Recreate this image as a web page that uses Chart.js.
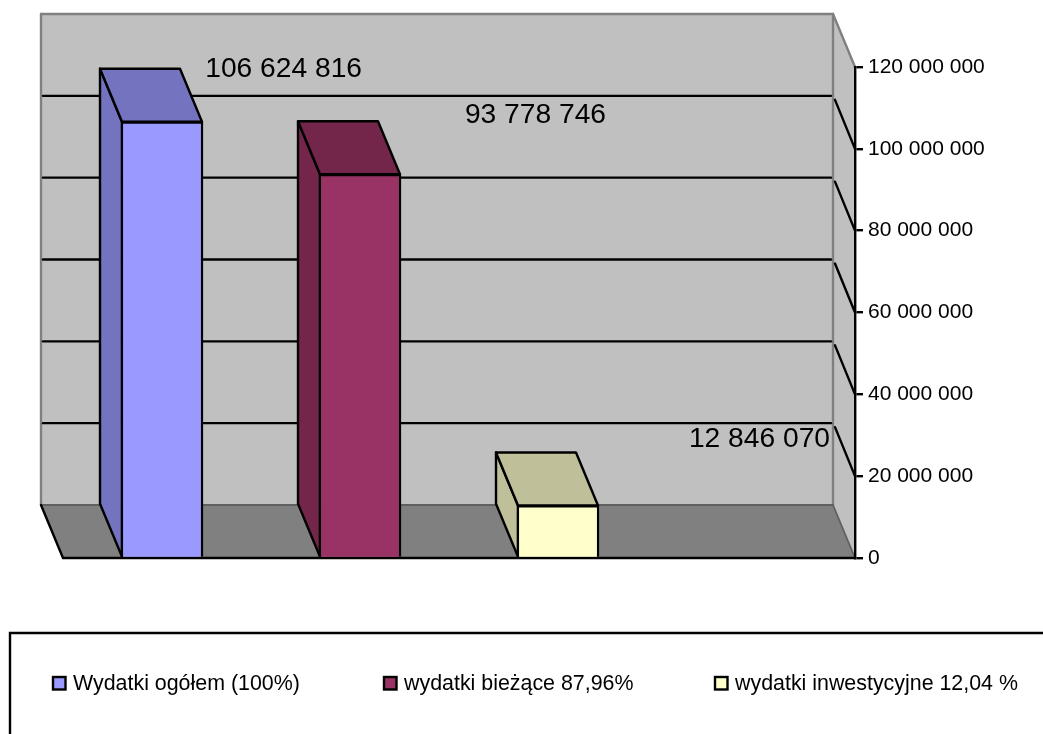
<!DOCTYPE html>
<html lang="pl">
<head>
<meta charset="utf-8">
<style>html,body{margin:0;padding:0;background:#fff;overflow:hidden}canvas{display:block}</style>
<script src="https://cdn.jsdelivr.net/npm/chart.js@4"></script>
</head>
<body>
<canvas id="c" width="1043" height="734"></canvas>
<script>
const categories = ['Wydatki ogółem (100%)', 'wydatki bieżące 87,96%', 'wydatki inwestycyjne 12,04 %', ''];
const values = [106624816, 93778746, 12846070, null];
const frontColors = ['#9999FF', '#993366', '#FFFFCC'];
const shadeColors = ['#7373BF', '#732649', '#BFBF99'];
const yTicks = [0, 20000000, 40000000, 60000000, 80000000, 100000000, 120000000];

const fmt = v => String(v).replace(/\B(?=(\d{3})+(?!\d))/g, ' ');
const FONT = '"Liberation Sans", Arial, sans-serif';
const depth = { dx: -22, dy: -53 };
const labelAnchors = [{ dx: 200, dy: -53 }, { dx: 246, dy: -59 }, { dx: 272, dy: -66 }];
const LW = 2.4;

function poly(ctx, pts, fill, stroke, lw) {
  ctx.beginPath();
  pts.forEach((p, i) => i ? ctx.lineTo(p[0], p[1]) : ctx.moveTo(p[0], p[1]));
  ctx.closePath();
  if (fill) { ctx.fillStyle = fill; ctx.fill(); }
  if (stroke) { ctx.strokeStyle = stroke; ctx.lineWidth = lw; ctx.stroke(); }
}
function line(ctx, a, b, color, lw) {
  ctx.beginPath(); ctx.moveTo(a[0], a[1]); ctx.lineTo(b[0], b[1]);
  ctx.strokeStyle = color; ctx.lineWidth = lw; ctx.stroke();
}

const scene3d = {
  id: 'scene3d',
  beforeDatasetsDraw(chart) {
    const { ctx, chartArea: { left: L, right: R }, scales: { y } } = chart;
    const { dx, dy } = depth;
    const T = y.getPixelForValue(yTicks[yTicks.length - 1]);
    const B = y.getPixelForValue(0);
    ctx.save();
    ctx.lineJoin = 'round';
    ctx.lineCap = 'round';
    // back wall, side wall, floor
    poly(ctx, [[L + dx, T + dy], [R + dx, T + dy], [R + dx, B + dy], [L + dx, B + dy]], '#C0C0C0');
    poly(ctx, [[R + dx, T + dy], [R, T], [R, B], [R + dx, B + dy]], '#C0C0C0');
    poly(ctx, [[L + dx, B + dy], [R + dx, B + dy], [R, B], [L, B]], '#808080');
    // grey wall edges
    line(ctx, [L + dx, T + dy], [R + dx, T + dy], '#808080', LW);
    line(ctx, [L + dx, T + dy], [L + dx, B + dy], '#808080', LW);
    line(ctx, [R + dx, T + dy], [R + dx, B + dy], '#808080', LW);
    line(ctx, [R + dx, T + dy], [R, T], '#808080', LW);
    line(ctx, [L + dx, B + dy], [R + dx, B + dy], '#606060', 1.8);
    line(ctx, [R + dx, B + dy], [R, B], '#606060', 1.8);
    // gridlines follow the wall
    yTicks.slice(1, -1).forEach(v => {
      const p = y.getPixelForValue(v);
      line(ctx, [L + dx + 2, p + dy], [R + dx - 2, p + dy], '#000', LW);
      line(ctx, [R + dx + 2, p + dy + 4], [R, p], '#000', LW);
    });
    // floor front edges
    line(ctx, [L + dx, B + dy], [L, B], '#000', LW);
    line(ctx, [L, B], [R, B], '#000', LW);
    // bar sides and tops
    chart.getDatasetMeta(0).data.forEach((bar, i) => {
      if (values[i] == null) return;
      const { x, y: top, base, width } = bar.getProps(['x', 'y', 'base', 'width'], true);
      const l = x - width / 2 + 1, r = x + width / 2 - 1;
      poly(ctx, [[l, top], [l + dx, top + dy], [l + dx, base + dy], [l, base]], shadeColors[i], '#000', LW);
      poly(ctx, [[l, top], [l + dx, top + dy], [r + dx, top + dy], [r, top]], shadeColors[i], '#000', LW);
    });
    ctx.restore();
  },
  afterDatasetsDraw(chart) {
    const { ctx } = chart;
    ctx.save();
    ctx.fillStyle = '#000';
    ctx.font = '28.2px ' + FONT;
    ctx.textAlign = 'right';
    ctx.textBaseline = 'middle';
    chart.getDatasetMeta(0).data.forEach((bar, i) => {
      if (values[i] == null) return;
      const a = labelAnchors[i];
      ctx.fillText(fmt(values[i]), bar.x + a.dx, bar.y + a.dy);
    });
    // legend frame and entries
    ctx.strokeStyle = '#000';
    ctx.lineWidth = 2.4;
    ctx.beginPath();
    ctx.moveTo(10, 734); ctx.lineTo(10, 633); ctx.lineTo(1043, 633);
    ctx.stroke();
    ctx.font = '21.4px ' + FONT;
    ctx.textAlign = 'left';
    categories.filter(Boolean).forEach((name, i) => {
      const x = 53 + i * 331;
      ctx.fillStyle = frontColors[i];
      ctx.lineWidth = 2.4;
      ctx.fillRect(x, 677, 12.5, 12.5);
      ctx.strokeRect(x, 677, 12.5, 12.5);
      ctx.fillStyle = '#000';
      ctx.fillText(name, x + 20, 684);
    });
    ctx.restore();
  }
};

new Chart(document.getElementById('c'), {
  type: 'bar',
  data: {
    labels: categories,
    datasets: [{
      data: values,
      backgroundColor: frontColors,
      borderColor: '#000',
      borderWidth: 2.4,
      barThickness: 82
    }]
  },
  plugins: [scene3d],
  options: {
    responsive: false,
    animation: false,
    devicePixelRatio: 1,
    layout: { padding: { left: 63, top: 67, bottom: 176, right: 0 } },
    plugins: { legend: { display: false }, tooltip: { enabled: false } },
    scales: {
      x: { display: false },
      y: {
        position: 'right',
        min: 0,
        max: 120000000,
        afterFit(scale) { scale.width = 188; },
        afterBuildTicks(scale) { scale.ticks = yTicks.map(value => ({ value })); },
        border: { display: true, color: '#000', width: 2.4, z: 1 },
        grid: { drawOnChartArea: false, drawTicks: true, tickLength: 8, color: '#000', lineWidth: 2.4, z: 1 },
        ticks: {
          color: '#000',
          padding: 5,
          font: { family: FONT, size: 21 },
          callback: v => fmt(v)
        }
      }
    }
  }
});
</script>
</body>
</html>
